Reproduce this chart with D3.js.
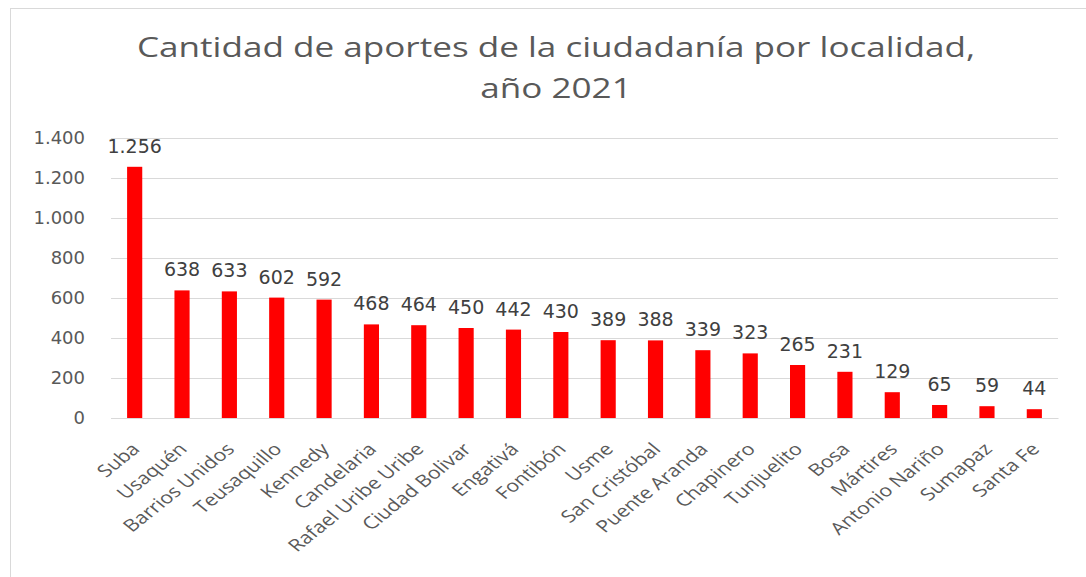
<!DOCTYPE html>
<html>
<head>
<meta charset="utf-8">
<script src="https://cdn.jsdelivr.net/npm/d3@7"></script>
<style>
  body { margin: 0; background: #fff; }
  svg { display: block; }
</style>
</head>
<body>
<div id="chart"></div>
<script>
const localidades = ["Suba", "Usaquén", "Barrios Unidos", "Teusaquillo", "Kennedy", "Candelaria",
  "Rafael Uribe Uribe", "Ciudad Bolivar", "Engativá", "Fontibón", "Usme", "San Cristóbal",
  "Puente Aranda", "Chapinero", "Tunjuelito", "Bosa", "Mártires", "Antonio Nariño", "Sumapaz", "Santa Fe"]
const aportes = [1256, 638, 633, 602, 592, 468, 464, 450, 442, 430, 389, 388, 339, 323, 265, 231, 129, 65, 59, 44]
const yTicks = [0, 200, 400, 600, 800, 1000, 1200, 1400]
const titleLines = ["Cantidad de aportes de la ciudadanía por localidad,", "año 2021"]

const totalWidth = 1086
const totalHeight = 577

// plot area
var margin = {top: 138, right: 28, bottom: 159, left: 111},
    width = totalWidth - margin.left - margin.right,
    height = totalHeight - margin.top - margin.bottom;

// numbers with "." as thousands separator
const fmt = d3.formatLocale({decimal: ",", thousands: ".", grouping: [3], currency: ["$", ""]}).format(",")

var svg = d3.select("#chart")
  .append("svg")
  .attr("width", totalWidth)
  .attr("height", totalHeight)

// chart frame
svg.append("rect")
  .attr("x", 10.5).attr("y", 8.5)
  .attr("width", totalWidth).attr("height", totalHeight)
  .attr("fill", "none").attr("stroke", "#d9d9d9")

// title (the original screenshot is stretched sideways, so stretch the text too)
svg.append("g").selectAll("text")
  .data(titleLines)
  .join("text")
  .attr("transform", (d, i) => "translate(556," + (57 + i * 41) + ") scale(1.3,1)")
  .attr("text-anchor", "middle")
  .attr("font-family", "'Open Sans', sans-serif")
  .attr("font-size", 27)
  .attr("fill", "#595959")
  .text(d => d)

var g = svg.append("g")
  .attr("transform", "translate(" + margin.left + "," + margin.top + ")")

var x = d3.scaleBand()
  .domain(localidades)
  .range([0, width])
  .paddingInner(0.68)
  .paddingOuter(0.34)

var y = d3.scaleLinear()
  .domain([0, 1400])
  .range([height, 0])

// gridlines
g.append("g")
  .selectAll("line")
  .data(yTicks)
  .join("line")
  .attr("x1", 0).attr("x2", width)
  .attr("y1", d => Math.round(y(d)) + 0.5)
  .attr("y2", d => Math.round(y(d)) + 0.5)
  .attr("stroke", "#d9d9d9")
  .attr("stroke-width", 1)

// y axis labels
var yAxis = g.append("g")
  .call(d3.axisLeft(y).tickValues(yTicks).tickFormat(fmt).tickSize(0).tickPadding(26))
yAxis.select(".domain").remove()
yAxis.selectAll("text")
  .attr("font-family", "'DejaVu Sans', sans-serif")
  .attr("font-size", 18)
  .attr("fill", "#595959")

// bars
g.append("g")
  .selectAll("rect")
  .data(aportes)
  .join("rect")
  .attr("x", (d, i) => x(localidades[i]))
  .attr("y", d => y(d))
  .attr("width", x.bandwidth())
  .attr("height", d => y(0) - y(d))
  .attr("fill", "#ff0000")

// data labels
g.append("g")
  .selectAll("text")
  .data(aportes)
  .join("text")
  .attr("x", (d, i) => x(localidades[i]) + x.bandwidth() / 2)
  .attr("y", d => y(d) - 14)
  .attr("text-anchor", "middle")
  .attr("font-family", "'DejaVu Sans', sans-serif")
  .attr("font-size", 19)
  .attr("fill", "#404040")
  .text(d => fmt(d))

// x axis - labels slanted like the (horizontally stretched) original
var xAxis = g.append("g")
  .attr("transform", "translate(0," + height + ")")
  .call(d3.axisBottom(x).tickSize(0).tickPadding(0))
xAxis.select(".domain").attr("stroke", "#d9d9d9")
xAxis.selectAll("text")
  .attr("font-family", "'Open Sans', sans-serif")
  .attr("font-size", 17)
  .attr("fill", "#595959")
  .attr("text-anchor", "end")
  .attr("y", 0)
  .attr("dy", "0.35em")
  .attr("transform", "translate(1,28) scale(1.25,1) rotate(-45)")
</script>
</body>
</html>
